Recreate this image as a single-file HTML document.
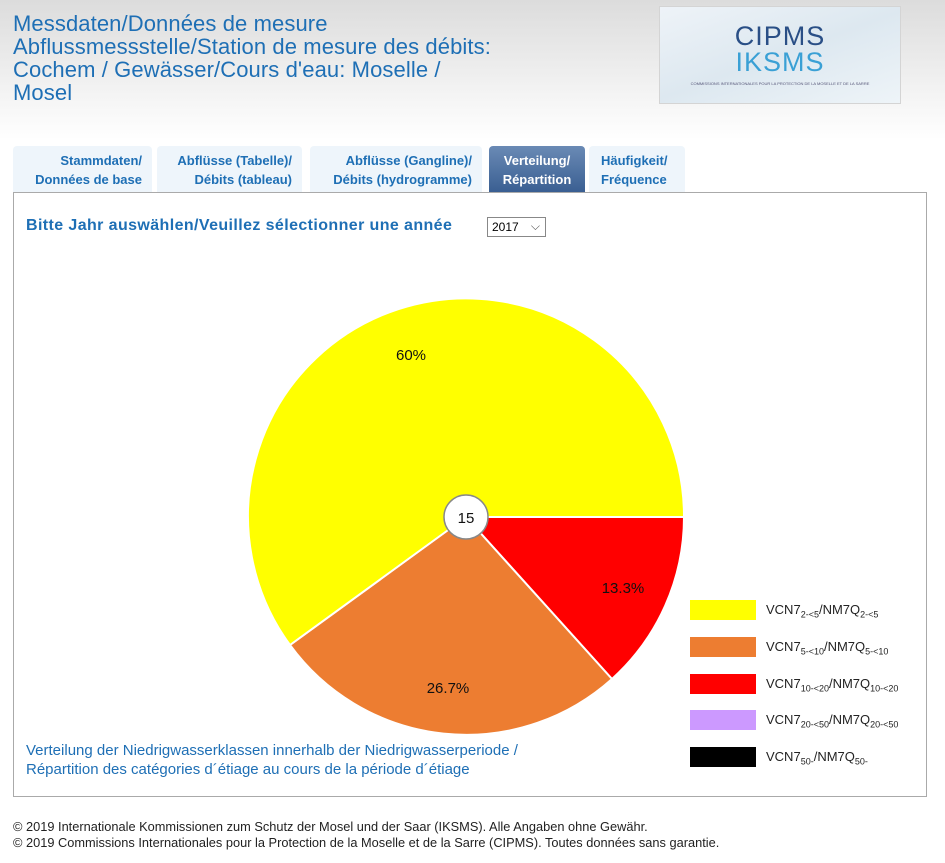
<!DOCTYPE html>
<html><head><meta charset="utf-8"><style>
body{margin:0;width:945px;height:863px;background:#fff;font-family:"Liberation Sans",Arial,sans-serif;position:relative;overflow:hidden}
.bg{position:absolute;left:0;top:0;width:945px;height:140px;background:linear-gradient(#dcdcdc,#fff)}
.title{position:absolute;left:13px;top:12px;color:#1e6fb5;font-size:22px;line-height:23px;letter-spacing:0.1px}
.logo{position:absolute;left:659px;top:6px;width:240px;height:96px;background:linear-gradient(160deg,#eef3f8,#dde8f0 50%,#eef4f8);border:1px solid #d4d4d4;text-align:center}
.logo .a{color:#2a4f86;font-size:27px;letter-spacing:1px;margin-top:16px;line-height:26px}
.logo .b{color:#3aa0d5;font-size:27px;letter-spacing:1px;line-height:26px}
.logo .c{font-size:4px;color:#557;margin-top:6px}
.tab{position:absolute;top:146px;height:46px;background:#eef5fb;border-radius:4px 4px 0 0;color:#1e6fb5;font-size:13px;font-weight:bold;line-height:19px;text-align:right;box-sizing:border-box;padding:5px 10px 0 0}
.tab.act{background:linear-gradient(#6a8ab5,#3a5f92);color:#fff;text-align:center;padding-right:0}
.panel{position:absolute;left:13px;top:192px;width:914px;height:605px;border:1px solid #aaa;box-sizing:border-box}
.sel{position:absolute;left:26px;top:217px;color:#1e6fb5;font-size:16px;font-weight:bold;letter-spacing:0.4px}
.box{position:absolute;left:487px;top:217px;width:59px;height:20px;border:1px solid #888;box-sizing:border-box;font-size:12px;padding:2px 0 0 4px}
.cap{position:absolute;left:26px;top:741px;color:#1e6fb5;font-size:15px;line-height:19px}
.foot{position:absolute;left:13px;top:819px;font-size:12.8px;line-height:16px;color:#222}
.sw{position:absolute;left:690px;width:66px;height:20px}
.lt{position:absolute;left:766px;font-size:13px;color:#222}
.lt sub{font-size:9px}
</style></head><body>
<div class="bg"></div>
<div class="title">Messdaten/Données de mesure<br>Abflussmessstelle/Station de mesure des débits:<br>Cochem / Gewässer/Cours d'eau: Moselle /<br>Mosel</div>
<div class="logo"><div class="a">CIPMS</div><div class="b">IKSMS</div><div class="c">COMMISSIONS INTERNATIONALES POUR LA PROTECTION DE LA MOSELLE ET DE LA SARRE</div></div>
<div class="tab" style="left:13px;width:139px">Stammdaten/<br>Données de base</div>
<div class="tab" style="left:157px;width:145px">Abflüsse (Tabelle)/<br>Débits (tableau)</div>
<div class="tab" style="left:310px;width:172px">Abflüsse (Gangline)/<br>Débits (hydrogramme)</div>
<div class="tab act" style="left:489px;width:96px">Verteilung/<br>Répartition</div>
<div class="tab" style="left:589px;width:96px;text-align:left;padding-left:12px">Häufigkeit/<br>Fréquence</div>
<div class="panel"></div>
<div class="sel">Bitte Jahr auswählen/Veuillez sélectionner une année</div>
<div class="box">2017 <span style="position:absolute;right:5px;top:1px;color:#555">⌵</span></div>
<svg style="position:absolute;left:0;top:0" width="945" height="863">
<path d="M466,517 L684,517 A218,218 0 0,1 612,679 Z" fill="#ff0000" stroke="#fff" stroke-width="2"/>
<path d="M466,517 L612,679 A218,218 0 0,1 290,645 Z" fill="#ed7d31" stroke="#fff" stroke-width="2"/>
<path d="M466,517 L290,645 A218,218 0 1,1 684,517 Z" fill="#ffff00" stroke="#fff" stroke-width="2"/>
<circle cx="466" cy="517" r="22" fill="#fff" stroke="#888" stroke-width="1.5"/>
<g font-family="Liberation Sans, Arial, sans-serif" font-size="15" fill="#111" text-anchor="middle">
<text x="466" y="523">15</text>
<text x="411" y="360">60%</text>
<text x="448" y="693">26.7%</text>
<text x="623" y="593">13.3%</text>
</g>
</svg>
<div class="sw" style="top:600px;background:#ffff00"></div><div class="lt" style="top:602px">VCN7<sub>2-&lt;5</sub>/NM7Q<sub>2-&lt;5</sub></div>
<div class="sw" style="top:637px;background:#ed7d31"></div><div class="lt" style="top:639px">VCN7<sub>5-&lt;10</sub>/NM7Q<sub>5-&lt;10</sub></div>
<div class="sw" style="top:674px;background:#ff0000"></div><div class="lt" style="top:676px">VCN7<sub>10-&lt;20</sub>/NM7Q<sub>10-&lt;20</sub></div>
<div class="sw" style="top:710px;background:#cc99ff"></div><div class="lt" style="top:712px">VCN7<sub>20-&lt;50</sub>/NM7Q<sub>20-&lt;50</sub></div>
<div class="sw" style="top:747px;background:#000"></div><div class="lt" style="top:749px">VCN7<sub>50-</sub>/NM7Q<sub>50-</sub></div>
<div class="cap">Verteilung der Niedrigwasserklassen innerhalb der Niedrigwasserperiode /<br>Répartition des catégories d´étiage au cours de la période d´étiage</div>
<div class="foot">© 2019 Internationale Kommissionen zum Schutz der Mosel und der Saar (IKSMS). Alle Angaben ohne Gewähr.<br>© 2019 Commissions Internationales pour la Protection de la Moselle et de la Sarre (CIPMS). Toutes données sans garantie.</div>
</body></html>
